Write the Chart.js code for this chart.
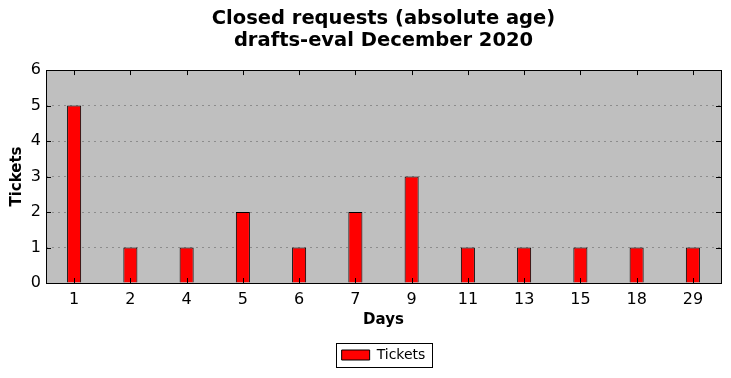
<!DOCTYPE html>
<html>
<head>
<meta charset="utf-8">
<script src="https://cdn.jsdelivr.net/npm/chart.js@4"></script>
<style>
  html, body { margin: 0; padding: 0; background: #fff; }
  #wrap { width: 731px; height: 378px; }
</style>
</head>
<body>
<div id="wrap"><canvas id="ageChart" width="731" height="378"></canvas></div>
<script>
// data
const days = ['1', '2', '4', '5', '6', '7', '9', '11', '13', '15', '18', '29'];
const tickets = [5, 1, 1, 2, 1, 2, 3, 1, 1, 1, 1, 1];
const yTicks = [0, 1, 2, 3, 4, 5, 6];

const FONT = 'DejaVu Sans';

// grey plot background, black frame and inward tick marks (matplotlib classic look)
const framePlugin = {
  id: 'frame',
  beforeDraw(chart) {
    const a = chart.chartArea, c = chart.ctx;
    c.save();
    c.fillStyle = '#bfbfbf';
    c.fillRect(a.left, a.top, a.right - a.left, a.bottom - a.top);
    c.restore();
  },
  afterDatasetsDraw(chart) {
    const a = chart.chartArea, c = chart.ctx;
    const x = chart.scales.x, y = chart.scales.y;
    c.save();
    c.strokeStyle = '#000';
    c.lineWidth = 1;
    c.beginPath();
    days.forEach((d, i) => {
      const px = Math.round(x.getPixelForValue(i)) + 0.5;
      c.moveTo(px, a.top); c.lineTo(px, a.top + 5);
      c.moveTo(px, a.bottom); c.lineTo(px, a.bottom - 5);
    });
    yTicks.forEach(v => {
      const py = Math.round(y.getPixelForValue(v)) + 0.5;
      c.moveTo(a.left, py); c.lineTo(a.left + 5, py);
      c.moveTo(a.right, py); c.lineTo(a.right - 5, py);
    });
    c.stroke();
    c.strokeRect(Math.round(a.left) + 0.5, Math.round(a.top) + 0.5,
      Math.round(a.right - a.left), Math.round(a.bottom - a.top));
    c.restore();
  },
  afterDraw(chart) {
    // frame round the legend entries
    const hb = chart.legend.legendHitBoxes;
    if (!hb || !hb.length) return;
    const l = Math.min(...hb.map(h => h.left)), r = Math.max(...hb.map(h => h.left + h.width));
    const t = Math.min(...hb.map(h => h.top)), b = Math.max(...hb.map(h => h.top + h.height));
    const c = chart.ctx;
    c.save();
    c.strokeStyle = '#000';
    c.lineWidth = 1;
    c.strokeRect(Math.round(l - 6) + 0.5, Math.round(t - 5) + 0.5, Math.round(r - l + 12), Math.round(b - t + 10));
    c.restore();
  }
};

new Chart(document.getElementById('ageChart').getContext('2d'), {
  type: 'bar',
  data: {
    labels: days,
    datasets: [{
      label: 'Tickets',
      data: tickets,
      backgroundColor: '#ff0000',
      borderColor: '#000000',
      borderWidth: 1,
      barPercentage: 0.25,
      categoryPercentage: 1.0,
    }],
  },
  options: {
    responsive: false,
    animation: false,
    layout: { padding: { left: 8, right: 10, top: 0, bottom: 6 } },
    scales: {
      x: {
        grid: { display: false, drawTicks: false },
        border: { display: false },
        ticks: { color: '#000', font: { family: FONT, size: 16 }, padding: 7, maxRotation: 0 },
        title: { display: true, text: 'Days', color: '#000', font: { family: FONT, size: 15, weight: 'bold' }, padding: { top: 6, bottom: 13 } },
        afterFit(s) { s.height = 59; },
      },
      y: {
        min: 0, max: 6,
        grid: { color: '#8c8c8c', drawTicks: false, lineWidth: 1 },
        border: { display: false, dash: [2, 4] },
        ticks: { stepSize: 1, color: '#000', font: { family: FONT, size: 16 }, padding: 5 },
        title: { display: true, text: 'Tickets', color: '#000', font: { family: FONT, size: 15, weight: 'bold' }, padding: 0 },
        afterFit(s) { s.width = 38; },
      },
    },
    plugins: {
      title: {
        display: true,
        fullSize: false,
        text: ['Closed requests (absolute age)', 'drafts-eval December 2020'],
        color: '#000',
        font: { family: FONT, size: 19.5, weight: 'bold', lineHeight: 1.13 },
        padding: { top: 8, bottom: 18 },
      },
      legend: {
        position: 'bottom',
        fullSize: false,
        labels: {
          color: '#000',
          font: { family: FONT, size: 14 },
          boxWidth: 28, boxHeight: 10,
          padding: 6,
        },
      },
      tooltip: { enabled: false },
    },
  },
  plugins: [framePlugin],
});
</script>
</body>
</html>
